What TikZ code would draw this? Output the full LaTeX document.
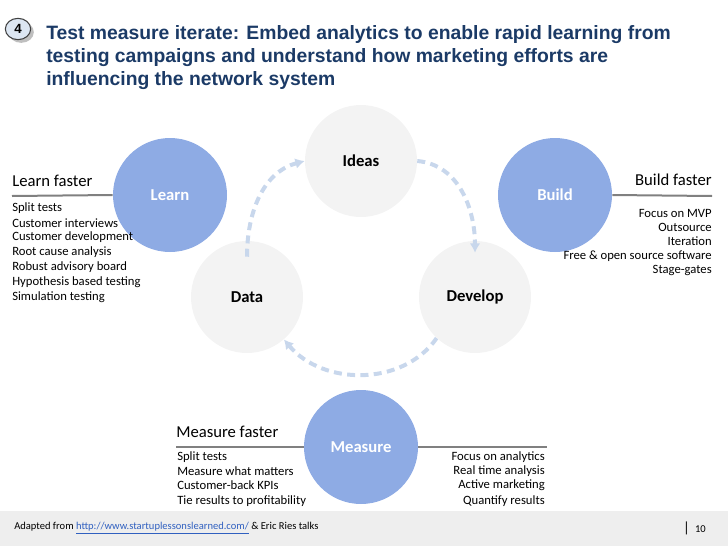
\documentclass[tikz,border=0pt]{standalone}
\usepackage{fontspec}
\setmainfont{Carlito}
\newfontfamily\arialfont{Liberation Sans}
\usetikzlibrary{positioning,arrows.meta,shapes.geometric,shadows}
\definecolor{cycblue}{HTML}{8EABE4}
\definecolor{cycgray}{HTML}{F3F3F3}
\definecolor{cycarrow}{HTML}{C8D7EC}
\definecolor{titlenavy}{HTML}{1B3A66}
\definecolor{rulegray}{HTML}{808080}
\definecolor{footgray}{HTML}{EEEEEE}
\definecolor{linkblue}{HTML}{3060C0}
\definecolor{badgefill}{HTML}{DCE6F2}

\tikzset{
  stage/.style={circle, fill=cycblue, minimum size=85.5pt, inner sep=0pt, text=white, font=\fontsize{12.5}{15}\selectfont\bfseries},
  phase/.style={circle, fill=cycgray, minimum size=84pt, inner sep=0pt, font=\fontsize{12.5}{15}\selectfont\bfseries},
  faster/.style={font=\fontsize{12.5}{15}\selectfont, inner sep=0pt},
  item/.style={font=\fontsize{9.5}{11}\selectfont, inner sep=0pt},
  fastrule/.style={rulegray, line width=1.5pt},
  cyclearrow/.style={cycarrow, line width=3pt, dash pattern=on 6pt off 4pt, -{Latex[length=7pt,width=8pt]}}
}

\begin{document}
\begin{tikzpicture}[x=0.75pt, y=0.75pt]
  \useasboundingbox (0,0) rectangle (728,-546);
  \fill[footgray] (0,-511) rectangle (728,-546);

  \node[ellipse, draw=black!75, thick, fill=badgefill, drop shadow, minimum width=19pt, minimum height=16pt, inner sep=0pt, font=\arialfont\bfseries\fontsize{10}{12}\selectfont] (badge) at (18,-29) {4};
  \node[anchor=north west, align=left, inner sep=0pt, text=titlenavy, font=\arialfont\bfseries\fontsize{14.5}{17.5}\selectfont] (title) at (46,-25)
    {Test measure iterate: Embed analytics to enable rapid learning from\\
     testing campaigns and understand how marketing efforts are\\
     influencing the network system};

  \node[phase] (ideas) at (361,-161) {Ideas};
  \node[phase] (data) at (247,-297) {Data};
  \node[phase] (develop) at (475,-297) {Develop};

  \draw[cyclearrow] ([yshift=-12pt]data.north) to[out=90,in=195] (ideas.west);
  \draw[cyclearrow] (ideas.east) to[out=-5,in=90] ([yshift=-9pt]develop.north);
  \draw[cyclearrow] (develop.227) to[out=235,in=-50] (data.311);

  \node[stage] (learn) at (170,-195) {Learn};
  \node[stage] (build) at (555,-195) {Build};
  \node[stage] (measure) at (361,-447) {Measure};

  \node[faster, anchor=west] (learnhd) at (12,-181) {Learn faster};
  \coordinate (learnend) at (12,-196);
  \draw[fastrule] (learnend) -- (learn.west);
  \foreach \t [count=\i] in {Split tests, Customer interviews, Customer development, Root cause analysis, Robust advisory board, Hypothesis based testing, Simulation testing}
    \node[item, anchor=west] (learnit\i) at (12,-208-14.8*\i+14.8) {\t};

  \node[faster, anchor=east] (buildhd) at (712,-180) {Build faster};
  \coordinate (buildend) at (712,-196);
  \draw[fastrule] (build.east) -- (buildend);
  \foreach \t [count=\i] in {Focus on MVP, Outsource, Iteration, Free \& open source software, Stage-gates}
    \node[item, anchor=east] (buildit\i) at (712,-213-14.3*\i+14.3) {\t};

  \node[faster, anchor=west] (measurehd) at (176,-432) {Measure faster};
  \coordinate (measureleft) at (176,-447);
  \coordinate (measureright) at (547,-447);
  \draw[fastrule] (measureleft) -- (measure.west);
  \draw[fastrule] (measure.east) -- (measureright);
  \foreach \t/\y [count=\i] in {Split tests/457, Measure what matters/471, Customer-back KPIs/485, Tie results to profitability/501}
    \node[item, anchor=west] (measureit\i) at (177,-\y) {\t};
  \foreach \t/\y [count=\i] in {Focus on analytics/457, Real time analysis/471, Active marketing/485, Quantify results/501}
    \node[item, anchor=east] (analyseit\i) at (545,-\y) {\t};

  \node[anchor=west, inner sep=0pt, font=\fontsize{7.9}{9}\selectfont] (source) at (14,-528)
    {Adapted from \textcolor{linkblue}{\underline{http://www.startuplessonslearned.com/}} \& Eric Ries talks};
  \node[anchor=east, inner sep=0pt, font=\fontsize{7.9}{9}\selectfont] (page) at (706,-528)
    {{\fontsize{11}{11}\selectfont|}\enspace 10};
\end{tikzpicture}
\end{document}
